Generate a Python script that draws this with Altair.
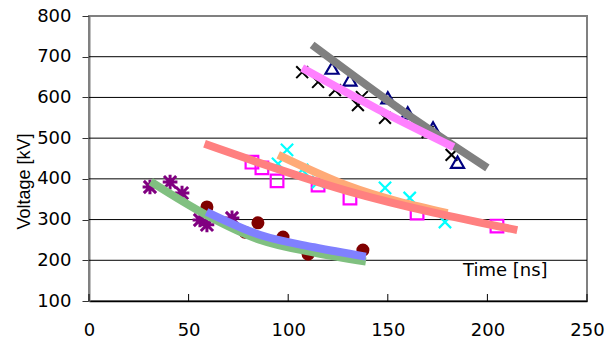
import altair as alt
import pandas as pd

# ---------------- data ----------------
# marker series: time [ns], voltage [kV]
x_black_x = [107, 115, 123.5, 137, 135, 148.6, 170, 182]
y_black_x = [662, 638, 618, 601, 581, 550, 515, 459]
x_navy_tri = [122, 131, 150, 160, 172.7, 185]
y_navy_tri = [672, 643, 599, 562, 525, 441]
x_mag_sq = [81.8, 86.8, 94.4, 115, 131, 164.7, 204.8]
y_mag_sq = [441, 427, 395, 385, 353, 316, 284]
x_cyan_x = [99.4, 94.9, 107, 115, 148.6, 161, 178.7]
y_cyan_x = [471, 437, 422, 392, 378, 353, 294]
x_red_dot = [59.2, 78.3, 84.8, 97.4, 110, 137.5]
y_red_dot = [331, 269, 292, 257, 215, 225]
x_purple_star = [30.6, 40.7, 46.7, 55.7, 59.2, 71.8]
y_purple_star = [380, 392, 365, 299, 287, 304]

# trend lines
x_gray = [112, 157, 200]
y_gray = [729, 568, 427]
x_pink = [107, 145, 183]
y_pink = [672, 571, 478]
x_orange = [95, 130, 180]
y_orange = [459, 383, 316]
x_salmon = [58, 130, 215]
y_salmon = [486, 370, 274]
x_green = [31, 59, 86, 113, 139]
y_green = [393, 311, 250, 219, 197]
x_blue = [59, 86, 113, 139]
y_blue = [319, 262, 232, 209]

x_ticks = [0, 50, 100, 150, 200, 250]
y_ticks = [100, 200, 300, 400, 500, 600, 700, 800]
grid_values = [200, 300, 400, 500, 600, 700]

FONT = "Liberation Sans"
LFONT = "DejaVu Sans"
W, H = 498, 285

xs = alt.Scale(domain=[0, 250], nice=False, zero=False)
ys = alt.Scale(domain=[100, 800], nice=False, zero=False)

x_axis = alt.Axis(values=x_ticks, title=None, tickSize=0, labelPadding=20,
                  grid=False, domainColor="black", domainWidth=1.5, labelFlush=False,
                  labelFontSize=18, labelFont=LFONT, labelColor="black")
y_axis = alt.Axis(values=y_ticks, title="Voltage [kV]", tickSize=7, tickColor="#333333",
                  labelPadding=11, grid=False, domainColor="#808080", domainWidth=2,
                  labelFlush=False,
                  labelFontSize=18, labelFont=LFONT, labelColor="black",
                  titleFontSize=18, titleFont=FONT, titleFontWeight="normal",
                  titleColor="black", titleX=-65, titleY=165, titleAngle=270,
                  titleAlign="center", titleBaseline="middle")


def df(xv, yv):
    return pd.DataFrame({"t": xv, "v": yv})


def enc(chart):
    return chart.encode(
        x=alt.X("t:Q", scale=xs, axis=x_axis),
        y=alt.Y("v:Q", scale=ys, axis=y_axis),
    )


XPATH = "M-1,-1L1,1M-1,1L1,-1"
STAR = "M-1,-1L1,1M-1,1L1,-1M0,-1.2L0,1.2M-1.2,0L1.2,0"

grid = alt.Chart(pd.DataFrame({"v": grid_values})).mark_rule(
    color="black", strokeWidth=1).encode(y=alt.Y("v:Q", scale=ys, axis=y_axis))

xticks = alt.Chart(pd.DataFrame({"t": x_ticks})).mark_rule(
    color="black", strokeWidth=1).encode(
    x=alt.X("t:Q", scale=xs, axis=x_axis), y=alt.value(H), y2=alt.value(H - 7))

pts_black = enc(alt.Chart(df(x_black_x, y_black_x)).mark_point(
    shape=XPATH, filled=False, stroke="black", strokeWidth=2, size=140, opacity=1))
pts_navy = enc(alt.Chart(df(x_navy_tri, y_navy_tri)).mark_point(
    shape="triangle-up", filled=False, stroke="#000080", strokeWidth=2.2, size=170, opacity=1))
pts_mag = enc(alt.Chart(df(x_mag_sq, y_mag_sq)).mark_point(
    shape="square", filled=False, stroke="#FF00FF", strokeWidth=2.2, size=160, opacity=1))
pts_cyan = enc(alt.Chart(df(x_cyan_x, y_cyan_x)).mark_point(
    shape=XPATH, filled=False, stroke="#00FFFF", strokeWidth=2.2, size=150, opacity=1))
pts_red = enc(alt.Chart(df(x_red_dot, y_red_dot)).mark_point(
    shape="circle", filled=True, fill="#800000", size=170, opacity=1))
pts_purple = enc(alt.Chart(df(x_purple_star, y_purple_star)).mark_point(
    shape=STAR, filled=False, stroke="#800080", strokeWidth=3, size=150, opacity=1))


def trend(xv, yv, color):
    return enc(alt.Chart(df(xv, yv)).mark_line(
        color=color, strokeWidth=8, interpolate="monotone", strokeCap="butt"))


l_gray = trend(x_gray, y_gray, "#808080")
l_pink = trend(x_pink, y_pink, "#FF80FF")
l_orange = trend(x_orange, y_orange, "#FFAA77")
l_salmon = trend(x_salmon, y_salmon, "#FF8080")
l_green = trend(x_green, y_green, "#80C080")
l_blue = trend(x_blue, y_blue, "#8080FF")

label = alt.Chart(pd.DataFrame({"s": ["Time [ns]"]})).mark_text(
    align="left", baseline="middle", font=LFONT, fontSize=18, color="black").encode(
    text="s:N", x=alt.value(374), y=alt.value(255))

chart = alt.layer(
    grid, xticks,
    pts_black, pts_navy, pts_mag, pts_cyan, pts_red, pts_purple,
    l_gray, l_pink, l_orange, l_salmon, l_green, l_blue,
    label,
).properties(
    width=W, height=H,
    autosize=alt.AutoSizeParams(type="none"),
    padding={"left": 89, "top": 16, "right": 27, "bottom": 44},
    background="white",
).configure_view(stroke="#808080", strokeWidth=2)

chart.save("out.html", embed_options={"renderer": "svg", "actions": False})
